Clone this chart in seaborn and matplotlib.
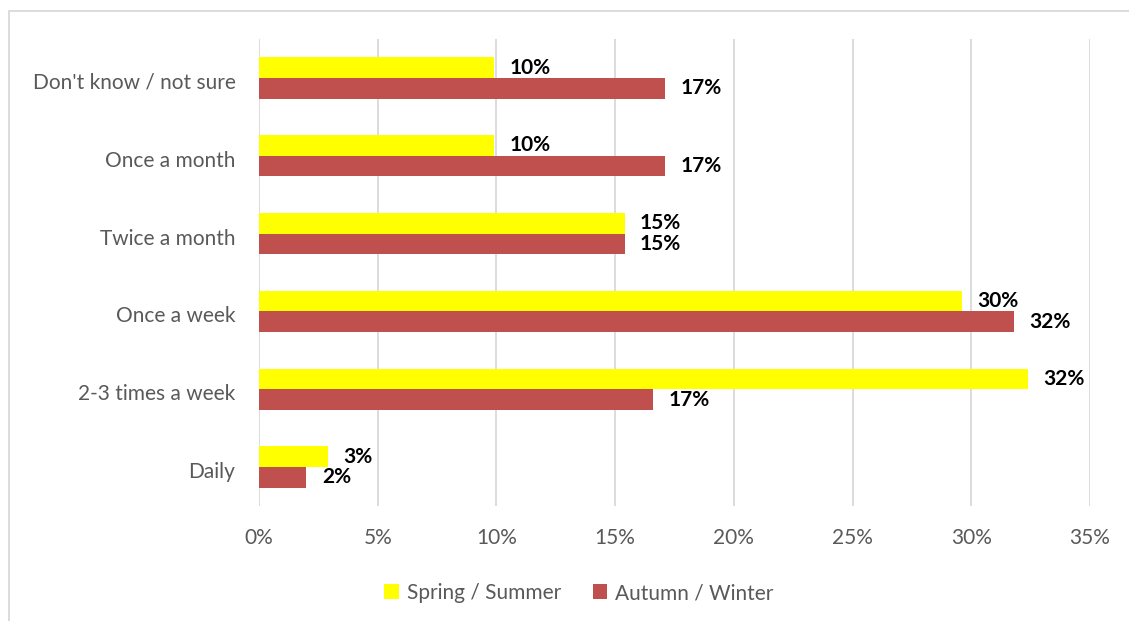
import matplotlib
matplotlib.use('Agg')
import matplotlib.pyplot as plt
import matplotlib.transforms as mtransforms
from matplotlib.patches import Rectangle, Patch
import seaborn as sns
import pandas as pd

# data (percent)
categories = ["Don't know / not sure", 'Once a month', 'Twice a month',
              'Once a week', '2-3 times a week', 'Daily']
spring_summer = [9.9, 9.9, 15.4, 29.6, 32.4, 2.9]
autumn_winter = [17.1, 17.1, 15.4, 31.8, 16.6, 2.0]
spring_labels = ['10%', '10%', '15%', '30%', '32%', '3%']
autumn_labels = ['17%', '17%', '15%', '32%', '17%', '2%']
series = ['Spring / Summer', 'Autumn / Winter']
colors = ['#FFFF00', '#C0504D']

df = pd.DataFrame({
    'category': categories * 2,
    'season': [series[0]] * len(categories) + [series[1]] * len(categories),
    'value': spring_summer + autumn_winter,
})

sns.set_style('white')
plt.rcParams['font.family'] = ['Lato', 'DejaVu Sans']

fig = plt.figure(figsize=(11.29, 6.21), dpi=100)
ax = fig.add_axes([259 / 1129, 1 - 506 / 621, (1090 - 259) / 1129, (506 - 39) / 621])

sns.barplot(data=df, x='value', y='category', hue='season', order=categories,
            hue_order=series, palette=colors, width=0.53, saturation=1,
            linewidth=0, legend=False, ax=ax)

# data labels
for cont, labs in zip(ax.containers, [spring_labels, autumn_labels]):
    ax.bar_label(cont, labels=labs, padding=11, fontsize=15, fontweight='bold',
                 color='black')

ax.set_xlim(0, 35)
ax.set_xticks(range(0, 36, 5))
ax.set_xticklabels([f'{t}%' for t in range(0, 36, 5)])
ax.xaxis.grid(True, color='#D9D9D9', linewidth=1.3)
ax.set_axisbelow(True)
for s in ax.spines.values():
    s.set_visible(False)
ax.set_xlabel('')
ax.set_ylabel('')
ax.tick_params(axis='both', length=0, labelsize=15, labelcolor='#595959')
ax.tick_params(axis='x', pad=16)
ax.tick_params(axis='y', pad=17)
shift = mtransforms.ScaledTranslation(0, -3 / 100, fig.dpi_scale_trans)
for lab in ax.get_yticklabels():
    lab.set_transform(lab.get_transform() + shift)

handles = [Patch(facecolor=c, edgecolor='none') for c in colors]
fig.legend(handles, series, loc='center', bbox_to_anchor=(579 / 1129, 1 - 593 / 621),
           ncol=2, frameon=False, fontsize=15, labelcolor='#595959',
           handlelength=0.7, handleheight=0.7, handletextpad=0.4, columnspacing=1.5)

# outer chart frame
fig.patches.append(Rectangle((9 / 1129, -0.05), 1.2, 1 - 11 / 621 + 0.05,
                             transform=fig.transFigure, fill=False,
                             edgecolor='#D9D9D9', linewidth=1.3))

fig.savefig('out.png', dpi=100, facecolor='white')
